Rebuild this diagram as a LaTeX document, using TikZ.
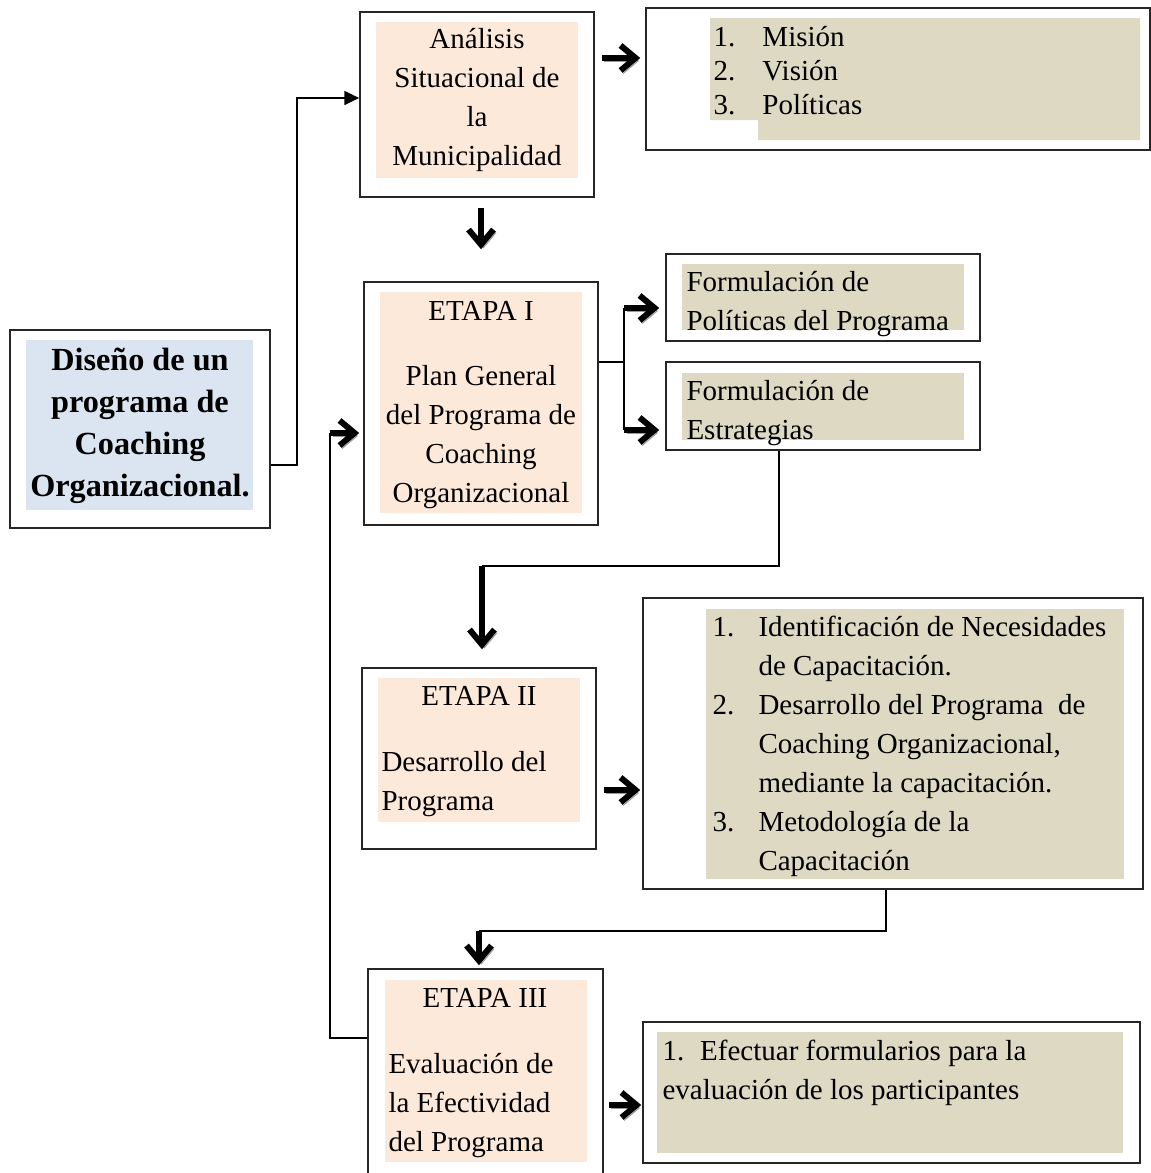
\documentclass[tikz,border=0pt]{standalone}
\usepackage{fontspec}
\setmainfont{Liberation Serif}
\usetikzlibrary{
    arrows.meta,
    fit,
    positioning
}
\definecolor{peach}{HTML}{FDE9D9}
\definecolor{paleblue}{HTML}{DBE5F1}
\definecolor{khaki}{HTML}{DDD9C3}
\newcommand{\boxlines}[2]{\begin{tabular}[t]{@{}#1@{}}#2\end{tabular}}

\begin{document}
\begin{tikzpicture}[x=0.4pt, y=-0.4pt,
    txt/.style={font=\fontsize{11.6}{15.6}\selectfont, inner sep=0pt},
    outer box/.style={draw=black!85, line width=0.6pt, inner sep=0pt},
    fill box/.style={inner sep=0pt, outer sep=0pt},
    thin line/.style={line width=1pt},
    bold arrow/.style={line width=2.4pt, -{Straight Barb[length=6pt,width=10pt]},
        preaction={draw=black!40, transform canvas={shift={(1pt,-1.2pt)}}}}]
                        \useasboundingbox (0,0) rectangle (1151,1173);
                        % outer boxes
                        \node[outer box, fit={(10,330) (270,528)}] (main) {};
                        \node[outer box, fit={(360,12) (594,197)}] (analisis) {};
                        \node[outer box, fit={(646,8) (1150,150)}] (lista) {};
                        \node[outer box, fit={(364,282) (598,525)}] (etapa1) {};
                        \node[outer box, fit={(666,254) (980,341)}] (politicas) {};
                        \node[outer box, fit={(666,362) (980,450)}] (estrategias) {};
                        \node[outer box, fit={(362,668) (596,849)}] (etapa2) {};
                        \node[outer box, fit={(643,598) (1143,889)}] (capacitacion) {};
                        \node[outer box, fit={(368,969) (603,1190)}] (etapa3) {};
                        \node[outer box, fit={(643,1022) (1140,1163)}] (evaluacion) {};
                        % shaded backgrounds
                        \node[fill box, fill=paleblue, fit={(26,340) (253,510)}] (mainbg) {};
                        \node[fill box, fill=peach, fit={(376,22) (578,178)}] (analisisbg) {};
                        \fill[khaki] (710,18) -- (1140,18) -- (1140,140) -- (758,140)
                            -- (758,120) -- (710,120) -- cycle;
                        \node[fill box, fill=peach, fit={(380,292) (582,513)}] (etapa1bg) {};
                        \node[fill box, fill=khaki, fit={(682,264) (964,330)}] (politicasbg) {};
                        \node[fill box, fill=khaki, fit={(682,373) (964,440)}] (estrategiasbg) {};
                        \node[fill box, fill=peach, fit={(378,678) (580,822)}] (etapa2bg) {};
                        \node[fill box, fill=khaki, fit={(706,609) (1124,879)}] (capacitacionbg) {};
                        \node[fill box, fill=peach, fit={(385,980) (587,1162)}] (etapa3bg) {};
                        \node[fill box, fill=khaki, fit={(657,1032) (1123,1153)}] (evaluacionbg) {};
                        % texts
                        \node[txt, anchor=base, font=\bfseries\fontsize{12.9}{16.8}\selectfont] (titulo) at (140,370)
                            {\boxlines{c}{Diseño de un\\programa de\\Coaching\\Organizacional.}};
                        \node[txt, anchor=base] (analisistxt) at (477,48)
                            {\boxlines{c}{Análisis\\Situacional de\\la\\Municipalidad}};
                        \node[txt, anchor=base west, font=\fontsize{11.6}{13.6}\selectfont] (listatxt) at (713,46)
                            {\boxlines{p{19.6pt}@{}l}{1. & Misión\\2. & Visión\\3. & Políticas}};
                        \node[txt, anchor=base] (etapa1txt) at (481,320)
                            {\boxlines{c}{ETAPA I\\[10.4pt]Plan General\\del Programa de\\Coaching\\Organizacional}};
                        \node[txt, anchor=base west] (politicastxt) at (686,291)
                            {\boxlines{l}{Formulación de\\Políticas del Programa}};
                        \node[txt, anchor=base west] (estrategiastxt) at (686,400)
                            {\boxlines{l}{Formulación de\\Estrategias}};
                        \node[txt, anchor=base] (etapa2tit) at (479,705) {ETAPA II};
                        \node[txt, anchor=base west] (etapa2txt) at (381,771)
                            {\boxlines{l}{Desarrollo del\\Programa}};
                        \node[txt, anchor=base west] (capacitaciontxt) at (712,636)
                            {\boxlines{p{18.4pt}@{}l}{1. & Identificación de Necesidades\\
                                & de Capacitación.\\
                                2. & Desarrollo del Programa\ \ de\\
                                & Coaching Organizacional,\\
                                & mediante la capacitación.\\
                                3. & Metodología de la\\
                                & Capacitación}};
                        \node[txt, anchor=base] (etapa3tit) at (485,1007) {ETAPA III};
                        \node[txt, anchor=base west] (etapa3txt) at (388,1073)
                            {\boxlines{l}{Evaluación de\\la Efectividad\\del Programa}};
                        \node[txt, anchor=base west] (evaluaciontxt) at (662,1060)
                            {\boxlines{l}{1.\hspace{6.4pt}Efectuar formularios para la\\evaluación de los participantes}};
                        % connectors
                        \draw[thin line, -{Triangle[length=6pt,width=5.5pt]}]
                            (main.east |- 0,465) -| (297,98) -- (analisis.west |- 0,98);
                        \draw[bold arrow, shorten <=2.8pt, shorten >=2pt]
                            (analisis.east |- 0,58) -- (lista.west |- 0,58);
                        \draw[bold arrow, shorten <=4pt, shorten >=12.8pt]
                            (analisis.south -| 481,0) -- (etapa1.north -| 481,0);
                        \coordinate (split) at (624,362);
                        \draw[thin line] (etapa1.east |- split) -- (split);
                        \draw[thin line] (split |- 0,308) -- (split |- 0,430);
                        \draw[bold arrow, shorten >=2.4pt] (split |- 0,308) -- (politicas.west |- 0,308);
                        \draw[bold arrow, shorten >=2.4pt] (split |- 0,430) -- (estrategias.west |- 0,430);
                        \draw[thin line] (estrategias.south -| 779,0) |- (482,566);
                        \draw[bold arrow, shorten >=7.2pt] (482,566) -- (etapa2.north -| 482,0);
                        \draw[bold arrow, shorten <=2.8pt, shorten >=0.8pt]
                            (etapa2.east |- 0,790) -- (capacitacion.west |- 0,790);
                        \draw[thin line] (capacitacion.south -| 886,0) |- (479,931);
                        \draw[bold arrow, shorten >=1.2pt] (479,931) -- (etapa3.north -| 479,0);
                        \draw[thin line] (etapa3.west |- 0,1038) -| (330,433);
                        \draw[bold arrow, shorten >=1.6pt] (330,433) -- (etapa1.west |- 0,433);
                        \draw[bold arrow, shorten <=2pt, shorten >=0.4pt]
                            (etapa3.east |- 0,1105) -- (evaluacion.west |- 0,1105);
                    \end{tikzpicture}
\end{document}
